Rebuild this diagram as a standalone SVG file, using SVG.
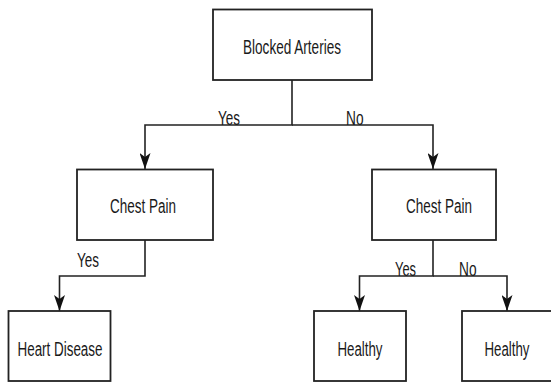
<svg xmlns="http://www.w3.org/2000/svg" width="551" height="383" viewBox="0 0 551 383">
<style>
.box{fill:#fff;stroke:#222;stroke-width:1.8}
.lbl{font-family:"Liberation Sans",Arial,sans-serif;font-size:20px;fill:#1a1a1a;text-anchor:middle}
.edge{fill:none;stroke:#222;stroke-width:1.6}
.el{font-family:"Liberation Sans",Arial,sans-serif;font-size:20px;fill:#1a1a1a}
</style>
<defs>
<marker id="arr" markerUnits="userSpaceOnUse" viewBox="0 0 16 11" refX="16" refY="5.5" markerWidth="17" markerHeight="11" orient="auto">
<path d="M0,0 L16,5.5 L0,11 L4,5.5 z" fill="#111"/>
</marker>
</defs>
<rect width="551" height="383" fill="#fff"/>
<g id="connectors">
<path class="edge" d="M292,80 V125 H145 V169" marker-end="url(#arr)"/>
<path class="edge" d="M292,125 H433 V169" marker-end="url(#arr)"/>
<path class="edge" d="M145,240 V276 H59.5 V311" marker-end="url(#arr)"/>
<path class="edge" d="M433,240 V276 H359.5 V311" marker-end="url(#arr)"/>
<path class="edge" d="M433,276 H507 V311" marker-end="url(#arr)"/>
<text class="el" x="218" y="125" textLength="22" lengthAdjust="spacingAndGlyphs">Yes</text>
<text class="el" x="346" y="125" textLength="17.5" lengthAdjust="spacingAndGlyphs">No</text>
<text class="el" x="77" y="267" textLength="22" lengthAdjust="spacingAndGlyphs">Yes</text>
<text class="el" x="395" y="276" textLength="21" lengthAdjust="spacingAndGlyphs">Yes</text>
<text class="el" x="459" y="276" textLength="17.5" lengthAdjust="spacingAndGlyphs">No</text>
</g>
<g id="blocked">
<rect class="box" x="213" y="9.5" width="159" height="70.5"/>
<text class="lbl" x="292" y="54" textLength="98" lengthAdjust="spacingAndGlyphs">Blocked Arteries</text>
</g>
<g id="chest-left">
<rect class="box" x="77" y="169.5" width="136" height="70.5"/>
<text class="lbl" x="143" y="213" textLength="66" lengthAdjust="spacingAndGlyphs">Chest Pain</text>
</g>
<g id="chest-right">
<rect class="box" x="372" y="169.5" width="124" height="70.5"/>
<text class="lbl" x="439" y="213" textLength="66" lengthAdjust="spacingAndGlyphs">Chest Pain</text>
</g>
<g id="heart-disease">
<rect class="box" x="8.5" y="311" width="102" height="70"/>
<text class="lbl" x="60" y="356" textLength="85" lengthAdjust="spacingAndGlyphs">Heart Disease</text>
</g>
<g id="healthy-left">
<rect class="box" x="314" y="311" width="92" height="70"/>
<text class="lbl" x="360" y="356" textLength="45" lengthAdjust="spacingAndGlyphs">Healthy</text>
</g>
<g id="healthy-right">
<rect class="box" x="462" y="311" width="92" height="70"/>
<text class="lbl" x="507" y="356" textLength="45" lengthAdjust="spacingAndGlyphs">Healthy</text>
</g>
</svg>
